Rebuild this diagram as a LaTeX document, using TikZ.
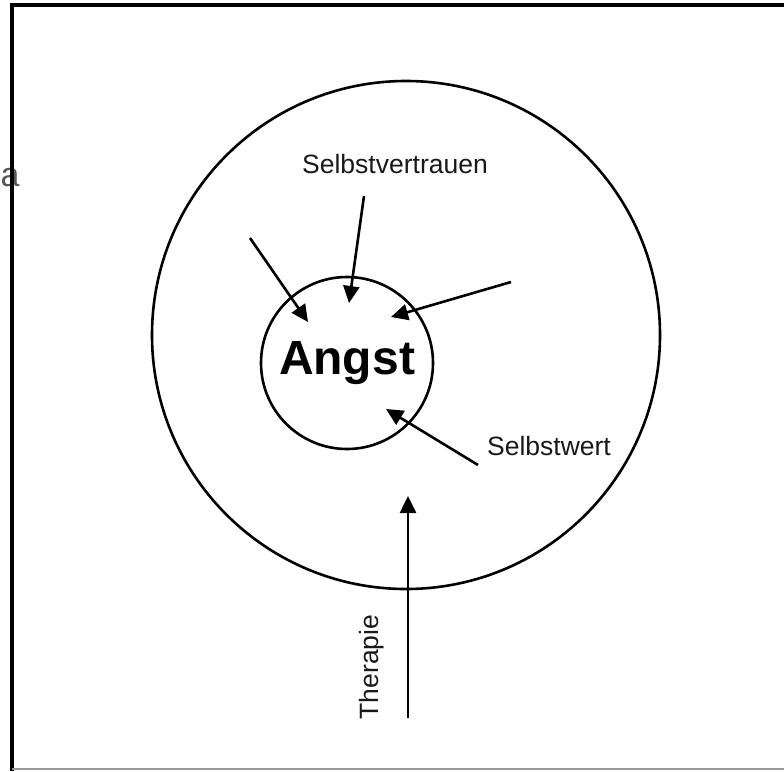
\documentclass[tikz,border=0pt]{standalone}
\usepackage{fontspec}
\setmainfont{Liberation Sans}
\usetikzlibrary{arrows.meta, positioning}

\begin{document}
\begin{tikzpicture}[
  x=1pt, y=-1pt,
  ring/.style={draw, circle, line width=2.6pt, inner sep=0pt},
  lbl/.style={font=\fontsize{26.5}{30}\selectfont, inner sep=0pt, text=black!90},
  arrow/.style={-{Triangle[length=17pt, width=16pt]}, line width=2.6pt},
]
  \useasboundingbox (0,0) rectangle (784,771);

  % letter at the left edge, crossed by the frame
  \node[anchor=base west, inner sep=0pt, text=black!65,
    font=\fontsize{34}{38}\selectfont] (cut) at (0.5,186) {a};

  % frame
  \draw[line width=3.2pt] (12,771) -- (12,5) -- (784,5);
  \draw[black!40, line width=2pt] (12,769) -- (784,769);

  % circles
  \node[ring, minimum size=508pt] (outer) at (406,335) {};
  \node[ring, minimum size=172pt,
    font=\bfseries\fontsize{48}{52}\selectfont] (angst) at (347,363) {Angst};

  % labels
  \node[lbl, anchor=base] (vertrauen) at (395,173) {Selbstvertrauen};
  \node[lbl, anchor=base] (wert) at (549,455) {Selbstwert};
  \node[lbl, rotate=90, anchor=base] (therapie) at (378,667) {Therapie};

  % arrow ends
  \coordinate (linksS) at (250,238);
  \coordinate (linksE) at (308,322);
  \coordinate (obenS) at (364,196);
  \coordinate (obenE) at (349,303);
  \coordinate (rechtsS) at (511,282);
  \coordinate (rechtsE) at (391,317);
  \coordinate (wertS) at (478,465);
  \coordinate (wertE) at (386,409);
  \coordinate (therS) at (408,718);
  \coordinate (therE) at (408,496);

  % arrows
  \draw[arrow] (linksS) -- (linksE);
  \draw[arrow] (obenS) -- (obenE);
  \draw[arrow] (rechtsS) -- (rechtsE);
  \draw[arrow] (wertS) -- (wertE);
  \draw[arrow] (therS) -- (therE);

\end{tikzpicture}
\end{document}
